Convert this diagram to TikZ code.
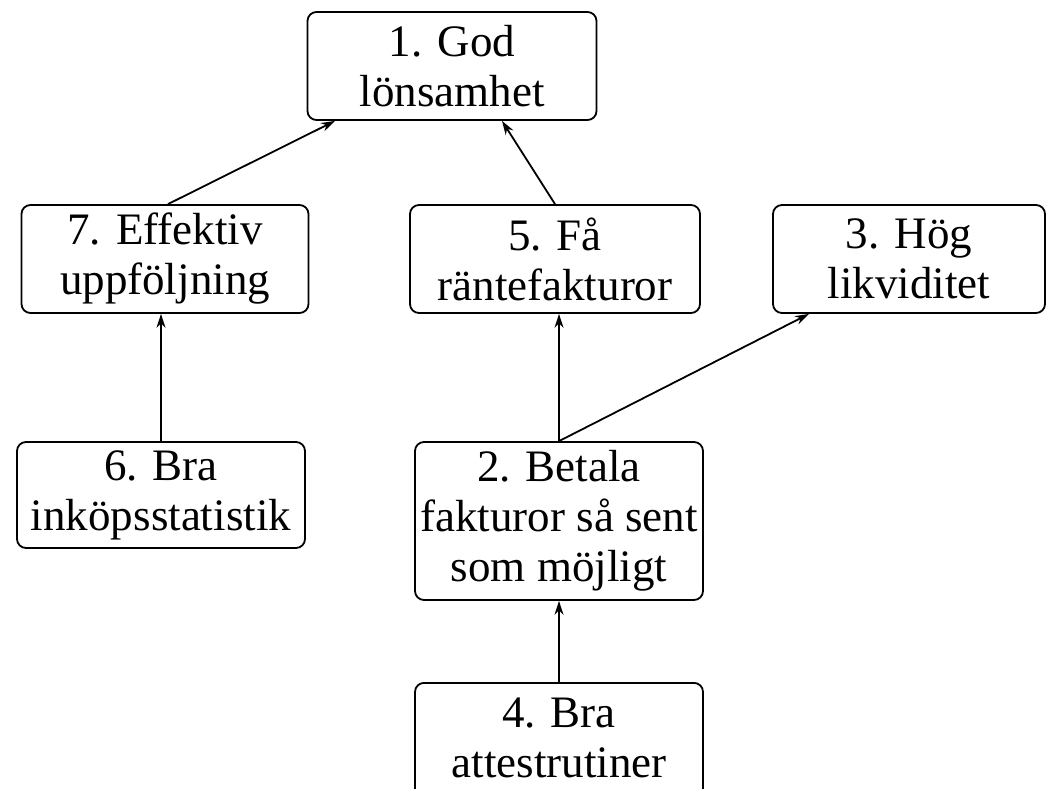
\documentclass[tikz,border=0pt]{standalone}
\usepackage{fontspec}
\setmainfont{Liberation Serif}
\usetikzlibrary{arrows.meta}
\begin{document}
\begin{tikzpicture}[x=1pt,y=-1pt,
  goalbox/.style={draw, line width=1.8pt, rounded corners=9pt, align=center,
    inner sep=0pt, font=\fontsize{45}{50}\selectfont},
  link/.style={line width=1.8pt, -{Stealth[length=14pt,width=9pt]}}]
\useasboundingbox (0,0) rectangle (1047,788);
% goal boxes
\node[goalbox, minimum width=289pt, minimum height=108pt] (g1) at (452,66) {1. God\\lönsamhet};
\node[goalbox, minimum width=287pt, minimum height=108pt] (g7) at (165,259) {7. Effektiv\\uppföljning};
\node[goalbox, minimum width=290pt, minimum height=108pt] (g5) at (555,259) {5. Få\\räntefakturor};
\node[goalbox, minimum width=272pt, minimum height=108pt] (g3) at (909,259) {3. Hög\\likviditet};
\node[goalbox, minimum width=288pt, minimum height=106pt] (g6) at (161,495) {6. Bra\\inköpsstatistik};
\node[goalbox, minimum width=288pt, minimum height=158pt] (g2) at (559,521) {2. Betala\\fakturor så sent\\som möjligt};
\node[goalbox, minimum width=288pt, minimum height=120pt, anchor=north] (g4) at (559,682) {};
\node[font=\fontsize{45}{50}\selectfont, align=center, anchor=north] (g4t) at (559,694) {4. Bra\\attestrutiner};
% connectors
\draw[link] ([xshift=3pt]g7.north) -- ([xshift=-117pt]g1.south);
\draw[link] (g5.north) -- ([xshift=50pt]g1.south);
\draw[link] (g6.north) -- (g6.north |- g7.south);
\draw[link] (g2.north) -- (g2.north |- g5.south);
\draw[link] (g2.north) -- ([xshift=-100pt]g3.south);
\draw[link] (g4.north) -- (g2.south);
\end{tikzpicture}
\end{document}
